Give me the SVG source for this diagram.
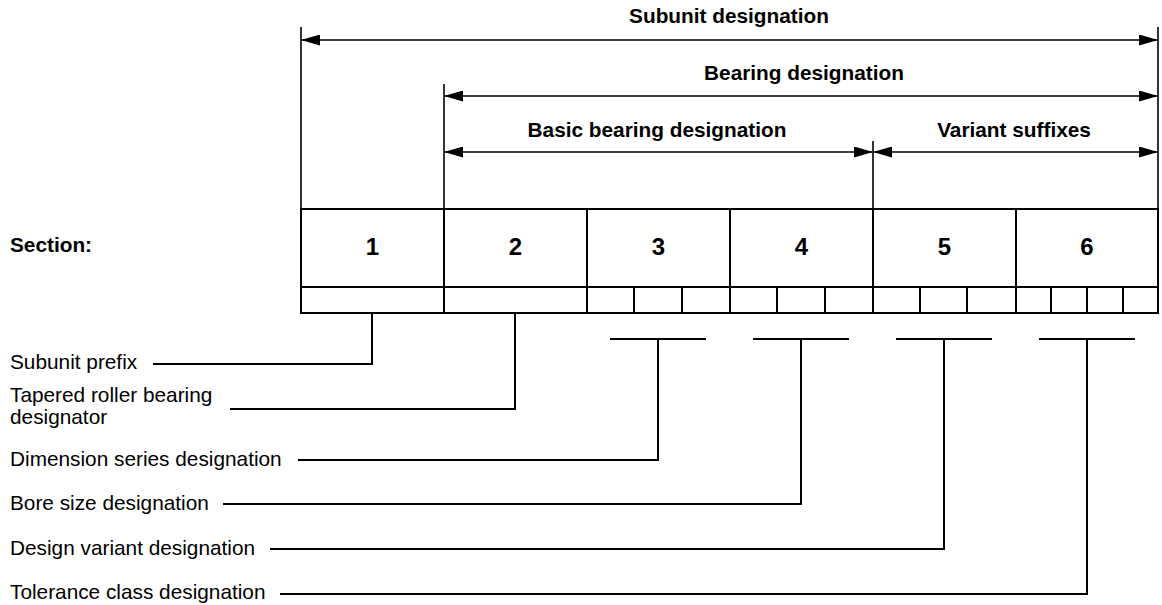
<svg xmlns="http://www.w3.org/2000/svg" width="1162" height="605" viewBox="0 0 1162 605">
<style>
.t{font-family:"Liberation Sans",Arial,sans-serif;fill:#000;font-size:20.8px}
.b{font-weight:bold}
.n{font-size:24px;text-anchor:middle}
.ln{stroke:#000;stroke-width:2;fill:none}
.dm{stroke:#000;stroke-width:1.6;fill:none}
</style>
<defs>
<marker id="ah" viewBox="0 0 19 11" refX="19" refY="5.5" markerWidth="19" markerHeight="11" markerUnits="userSpaceOnUse" orient="auto-start-reverse">
<path d="M0,0 L19,5.5 L0,11 Z" fill="#000"/>
</marker>
</defs>
<rect width="1162" height="605" fill="#fff"/>
<g id="dimensions">
<line class="dm" x1="301" y1="27" x2="301" y2="209"/>
<line class="dm" x1="444" y1="84" x2="444" y2="209"/>
<line class="dm" x1="873" y1="141" x2="873" y2="209"/>
<line class="dm" x1="1158" y1="27" x2="1158" y2="209"/>
<line class="dm" x1="301" y1="40" x2="1158" y2="40" marker-start="url(#ah)" marker-end="url(#ah)"/>
<line class="dm" x1="444" y1="96" x2="1158" y2="96" marker-start="url(#ah)" marker-end="url(#ah)"/>
<line class="dm" x1="444" y1="152" x2="873" y2="152" marker-start="url(#ah)" marker-end="url(#ah)"/>
<line class="dm" x1="873" y1="152" x2="1158" y2="152" marker-start="url(#ah)" marker-end="url(#ah)"/>
<text class="t b" x="729" y="23" text-anchor="middle">Subunit designation</text>
<text class="t b" x="804" y="80" text-anchor="middle">Bearing designation</text>
<text class="t b" x="657" y="137" text-anchor="middle">Basic bearing designation</text>
<text class="t b" x="1014" y="137" text-anchor="middle">Variant suffixes</text>
</g>
<text class="t b" x="10" y="252">Section:</text>
<g id="table">
<rect class="ln" x="301" y="209" width="857" height="104"/>
<line class="ln" x1="301" y1="287" x2="1158" y2="287"/>
<line class="ln" x1="444" y1="209" x2="444" y2="313"/>
<line class="ln" x1="587" y1="209" x2="587" y2="313"/>
<line class="ln" x1="730" y1="209" x2="730" y2="313"/>
<line class="ln" x1="873" y1="209" x2="873" y2="313"/>
<line class="ln" x1="1016" y1="209" x2="1016" y2="313"/>
<line class="ln" x1="634" y1="287" x2="634" y2="313"/>
<line class="ln" x1="682" y1="287" x2="682" y2="313"/>
<line class="ln" x1="777" y1="287" x2="777" y2="313"/>
<line class="ln" x1="825" y1="287" x2="825" y2="313"/>
<line class="ln" x1="920" y1="287" x2="920" y2="313"/>
<line class="ln" x1="967" y1="287" x2="967" y2="313"/>
<line class="ln" x1="1051" y1="287" x2="1051" y2="313"/>
<line class="ln" x1="1087" y1="287" x2="1087" y2="313"/>
<line class="ln" x1="1123" y1="287" x2="1123" y2="313"/>
<text class="t b n" x="372.5" y="255">1</text>
<text class="t b n" x="515.5" y="255">2</text>
<text class="t b n" x="658.5" y="255">3</text>
<text class="t b n" x="801.5" y="255">4</text>
<text class="t b n" x="944.5" y="255">5</text>
<text class="t b n" x="1087" y="255">6</text>
</g>
<g id="leaders">
<polyline class="ln" points="153,364 372,364 372,313"/>
<polyline class="ln" points="230,409 515,409 515,313"/>
<line class="ln" x1="610" y1="339" x2="706" y2="339"/>
<polyline class="ln" points="298,460 658,460 658,339"/>
<line class="ln" x1="753" y1="339" x2="849" y2="339"/>
<polyline class="ln" points="223,504 801,504 801,339"/>
<line class="ln" x1="896" y1="339" x2="992" y2="339"/>
<polyline class="ln" points="270,549 944,549 944,339"/>
<line class="ln" x1="1039" y1="339" x2="1135" y2="339"/>
<polyline class="ln" points="280,594 1087,594 1087,339"/>
</g>
<g id="labels">
<text class="t" x="10" y="369">Subunit prefix</text>
<text class="t" x="10" y="402">Tapered roller bearing</text>
<text class="t" x="10" y="424">designator</text>
<text class="t" x="10" y="466">Dimension series designation</text>
<text class="t" x="10" y="510">Bore size designation</text>
<text class="t" x="10" y="555">Design variant designation</text>
<text class="t" x="10" y="599">Tolerance class designation</text>
</g>
</svg>
